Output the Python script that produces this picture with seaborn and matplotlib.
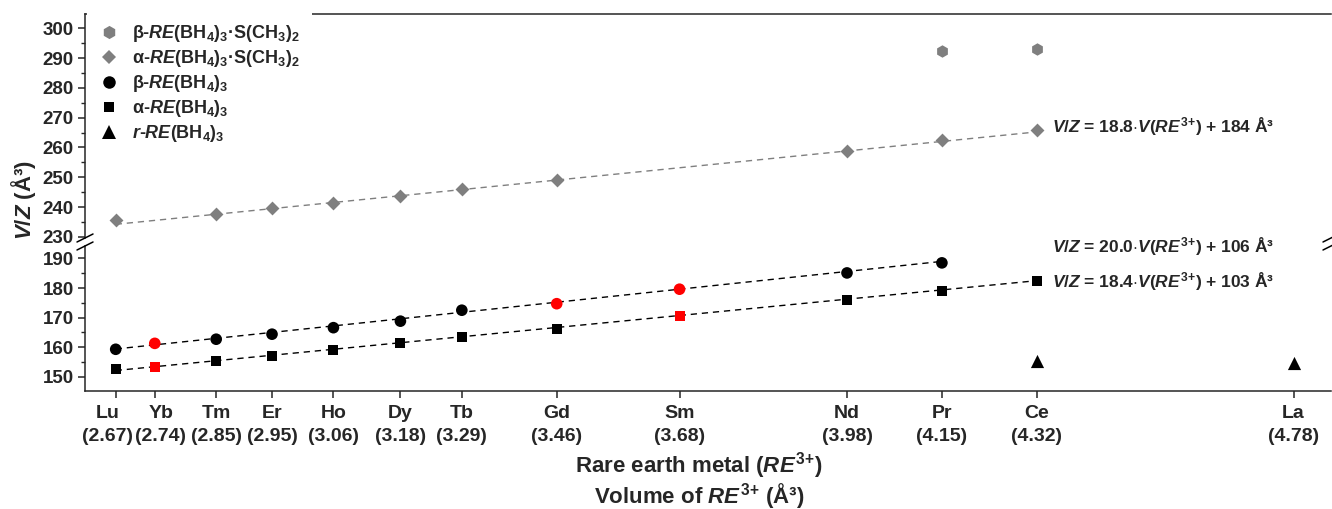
import numpy as np
import pandas as pd
import matplotlib
matplotlib.use("Agg")
import matplotlib.pyplot as plt
import matplotlib.transforms as mtransforms
from matplotlib.lines import Line2D
from matplotlib.ticker import MultipleLocator
import seaborn as sns

# rare earth ions and their ionic volume V(RE3+) in A^3
elements = ["Lu", "Yb", "Tm", "Er", "Ho", "Dy", "Tb", "Gd", "Sm", "Nd", "Pr", "Ce", "La"]
volumes = [2.67, 2.74, 2.85, 2.95, 3.06, 3.18, 3.29, 3.46, 3.68, 3.98, 4.15, 4.32, 4.78]

# beta-RE(BH4)3 (circles); red = new compounds
beta_els = ["Lu", "Yb", "Tm", "Er", "Ho", "Dy", "Tb", "Gd", "Sm", "Nd", "Pr"]
beta_vz = [159.3, 161.3, 162.7, 164.4, 166.6, 168.8, 172.5, 174.7, 179.6, 185.1, 188.5]
beta_new = ["Yb", "Gd", "Sm"]

# alpha-RE(BH4)3 (squares)
alpha_els = ["Lu", "Yb", "Tm", "Er", "Ho", "Dy", "Tb", "Gd", "Sm", "Nd", "Pr", "Ce"]
alpha_vz = [152.5, 153.4, 155.3, 157.1, 159.0, 161.3, 163.3, 166.3, 170.6, 176.1, 179.1, 182.3]
alpha_new = ["Yb", "Sm"]

# r-RE(BH4)3 (triangles)
r_els = ["Ce", "La"]
r_vz = [155.3, 154.5]

# alpha-RE(BH4)3.S(CH3)2 (diamonds)
adms_els = ["Lu", "Tm", "Er", "Ho", "Dy", "Tb", "Gd", "Nd", "Pr", "Ce"]
adms_vz = [235.7, 237.7, 239.6, 241.5, 243.7, 246.0, 249.1, 258.8, 262.5, 265.9]

# beta-RE(BH4)3.S(CH3)2 (hexagons)
bdms_els = ["Pr", "Ce"]
bdms_vz = [292.5, 293.2]

# linear fits printed on the chart (slope, intercept)
fit_adms = (18.8, 184)
fit_beta = (20.0, 106)
fit_alpha = (18.4, 103)

sns.set_theme(style="ticks")
plt.rcParams.update({
    "font.family": ["Liberation Sans", "DejaVu Sans"],
    "font.weight": "bold",
    "mathtext.fontset": "custom",
    "mathtext.rm": "Liberation Sans:bold",
    "mathtext.it": "Liberation Sans:italic:bold",
    "mathtext.bf": "Liberation Sans:bold",
    "axes.linewidth": 1.1,
    "xtick.major.width": 1.1,
    "ytick.major.width": 1.1,
    "ytick.minor.width": 1.0,
})

GRAY = "#7f7f7f"
W, H = 1332, 509
vol = dict(zip(elements, volumes))
RE3 = r"$RE^{3}$$^{+}$"


def series(els, vz, new=()):
    return pd.DataFrame({"x": [vol[e] for e in els], "y": vz,
                         "c": ["new" if e in new else "old" for e in els]})


def fit_frame(els, coef):
    xs = np.array([vol[els[0]], vol[els[-1]]])
    return pd.DataFrame({"x": xs, "y": coef[0] * xs + coef[1]})


fig = plt.figure(figsize=(W / 100, H / 100), dpi=100)
ax_top = fig.add_axes([85 / W, 1 - 238 / H, 1246 / W, 224 / H])
ax_bot = fig.add_axes([85 / W, 1 - 391 / H, 1246 / W, 145 / H], sharex=ax_top)

dash = (0, (4.5, 3.5))
pal_bw = {"old": "black", "new": "red"}

# upper part: dimethylsulfide adducts
sns.lineplot(data=fit_frame(adms_els, fit_adms), x="x", y="y", ax=ax_top,
             color=GRAY, linestyle=dash, lw=1.0)
sns.scatterplot(data=series(adms_els, adms_vz), x="x", y="y", ax=ax_top, color=GRAY,
                marker="D", s=50, linewidth=0, zorder=3)
sns.scatterplot(data=series(bdms_els, bdms_vz), x="x", y="y", ax=ax_top, color=GRAY,
                marker="h", s=80, linewidth=0, zorder=3)

# lower part: solvent-free borohydrides
sns.lineplot(data=fit_frame(beta_els, fit_beta), x="x", y="y", ax=ax_bot,
             color="black", linestyle=dash, lw=1.0)
sns.lineplot(data=fit_frame(alpha_els, fit_alpha), x="x", y="y", ax=ax_bot,
             color="black", linestyle=dash, lw=1.0)
sns.scatterplot(data=series(beta_els, beta_vz, beta_new), x="x", y="y", hue="c",
                palette=pal_bw, ax=ax_bot, marker="o", s=70, linewidth=0, zorder=3, legend=False)
sns.scatterplot(data=series(alpha_els, alpha_vz, alpha_new), x="x", y="y", hue="c",
                palette=pal_bw, ax=ax_bot, marker="s", s=52, linewidth=0, zorder=3, legend=False)
sns.scatterplot(data=series(r_els, r_vz), x="x", y="y", ax=ax_bot, color="black",
                marker="^", s=90, linewidth=0, zorder=3)

ax_top.set_xlim(2.615, 4.847)
ax_top.set_ylim(229.6, 304.8)
ax_bot.set_ylim(145.2, 194.2)

for ax in (ax_top, ax_bot):
    ax.set_xlabel("")
    ax.set_ylabel("")
    ax.spines["right"].set_visible(False)
    ax.yaxis.set_major_locator(MultipleLocator(10))
    ax.yaxis.set_minor_locator(MultipleLocator(5))
    ax.tick_params(axis="y", which="major", length=5, labelsize=13.5, pad=3)
    ax.tick_params(axis="y", which="minor", length=3)
ax_top.spines["bottom"].set_visible(False)
ax_bot.spines["top"].set_visible(False)
ax_top.tick_params(axis="x", bottom=False, labelbottom=False)

ax_bot.set_xticks(volumes)
ax_bot.set_xticklabels([f"{e}\n({v:.2f})" for e, v in zip(elements, volumes)])
ax_bot.tick_params(axis="x", length=5, labelsize=14, pad=5)
# Lu and Yb sit close together: nudge their labels apart
nudge = {"Lu": -8, "Yb": 6}
for lab, e in zip(ax_bot.get_xticklabels(), elements):
    lab.set_linespacing(1.5)
    if e in nudge:
        lab.set_transform(lab.get_transform() + mtransforms.ScaledTranslation(
            nudge[e] / 100, 0, fig.dpi_scale_trans))

# fit equations
eq_kw = dict(fontsize=12.5, va="center", ha="left")
ax_top.text(4.348, 266.9, r"$V/Z$ = 18.8$\cdot$$V$(" + RE3 + ") + 184 Å³", **eq_kw)
ax_bot.text(4.348, 193.8, r"$V/Z$ = 20.0$\cdot$$V$(" + RE3 + ") + 106 Å³", **eq_kw)
ax_bot.text(4.348, 182.3, r"$V/Z$ = 18.4$\cdot$$V$(" + RE3 + ") + 103 Å³", **eq_kw)

# legend (white box hides the left part of the top frame line, as in the original)
handles = [
    Line2D([], [], ls="none", marker="h", ms=9.5, color=GRAY, mew=0),
    Line2D([], [], ls="none", marker="D", ms=7, color=GRAY, mew=0),
    Line2D([], [], ls="none", marker="o", ms=9, color="black", mew=0),
    Line2D([], [], ls="none", marker="s", ms=7.5, color="black", mew=0),
    Line2D([], [], ls="none", marker="^", ms=9.5, color="black", mew=0),
]
labels = [
    r"β-$RE$(BH$_4$)$_3$·S(CH$_3$)$_2$",
    r"α-$RE$(BH$_4$)$_3$·S(CH$_3$)$_2$",
    r"β-$RE$(BH$_4$)$_3$",
    r"α-$RE$(BH$_4$)$_3$",
    r"$r$-$RE$(BH$_4$)$_3$",
]
leg = ax_top.legend(handles, labels, loc="upper left", bbox_to_anchor=(0.0016, 1.01),
                    fontsize=13, frameon=True, fancybox=False, framealpha=1,
                    facecolor="white", edgecolor="none", borderpad=0.65,
                    handlelength=1.1, handletextpad=0.75, labelspacing=0.22,
                    borderaxespad=0)
leg.set_zorder(10)

# axis titles
fig.text(24 / W, 1 - 200 / H, r"$V/Z$ (Å³)", rotation=90, ha="center", va="center",
         fontsize=16)
fig.text(699 / W, 1 - 466 / H, r"Rare earth metal (" + RE3 + ")", ha="center", va="center",
         fontsize=16)
fig.text(699 / W, 1 - 496 / H, r"Volume of " + RE3 + " (Å³)", ha="center", va="center",
         fontsize=16)


# axis break marks
def break_mark(xpx, ypx):
    fig.add_artist(Line2D([(xpx - 8) / W, (xpx + 8) / W],
                          [1 - (ypx + 4) / H, 1 - (ypx - 4) / H],
                          transform=fig.transFigure, color="black", lw=1.1))


for xp in (85, 1331):
    break_mark(xp, 238)
    break_mark(xp, 246)

fig.savefig("out.png", dpi=100, facecolor="white")
